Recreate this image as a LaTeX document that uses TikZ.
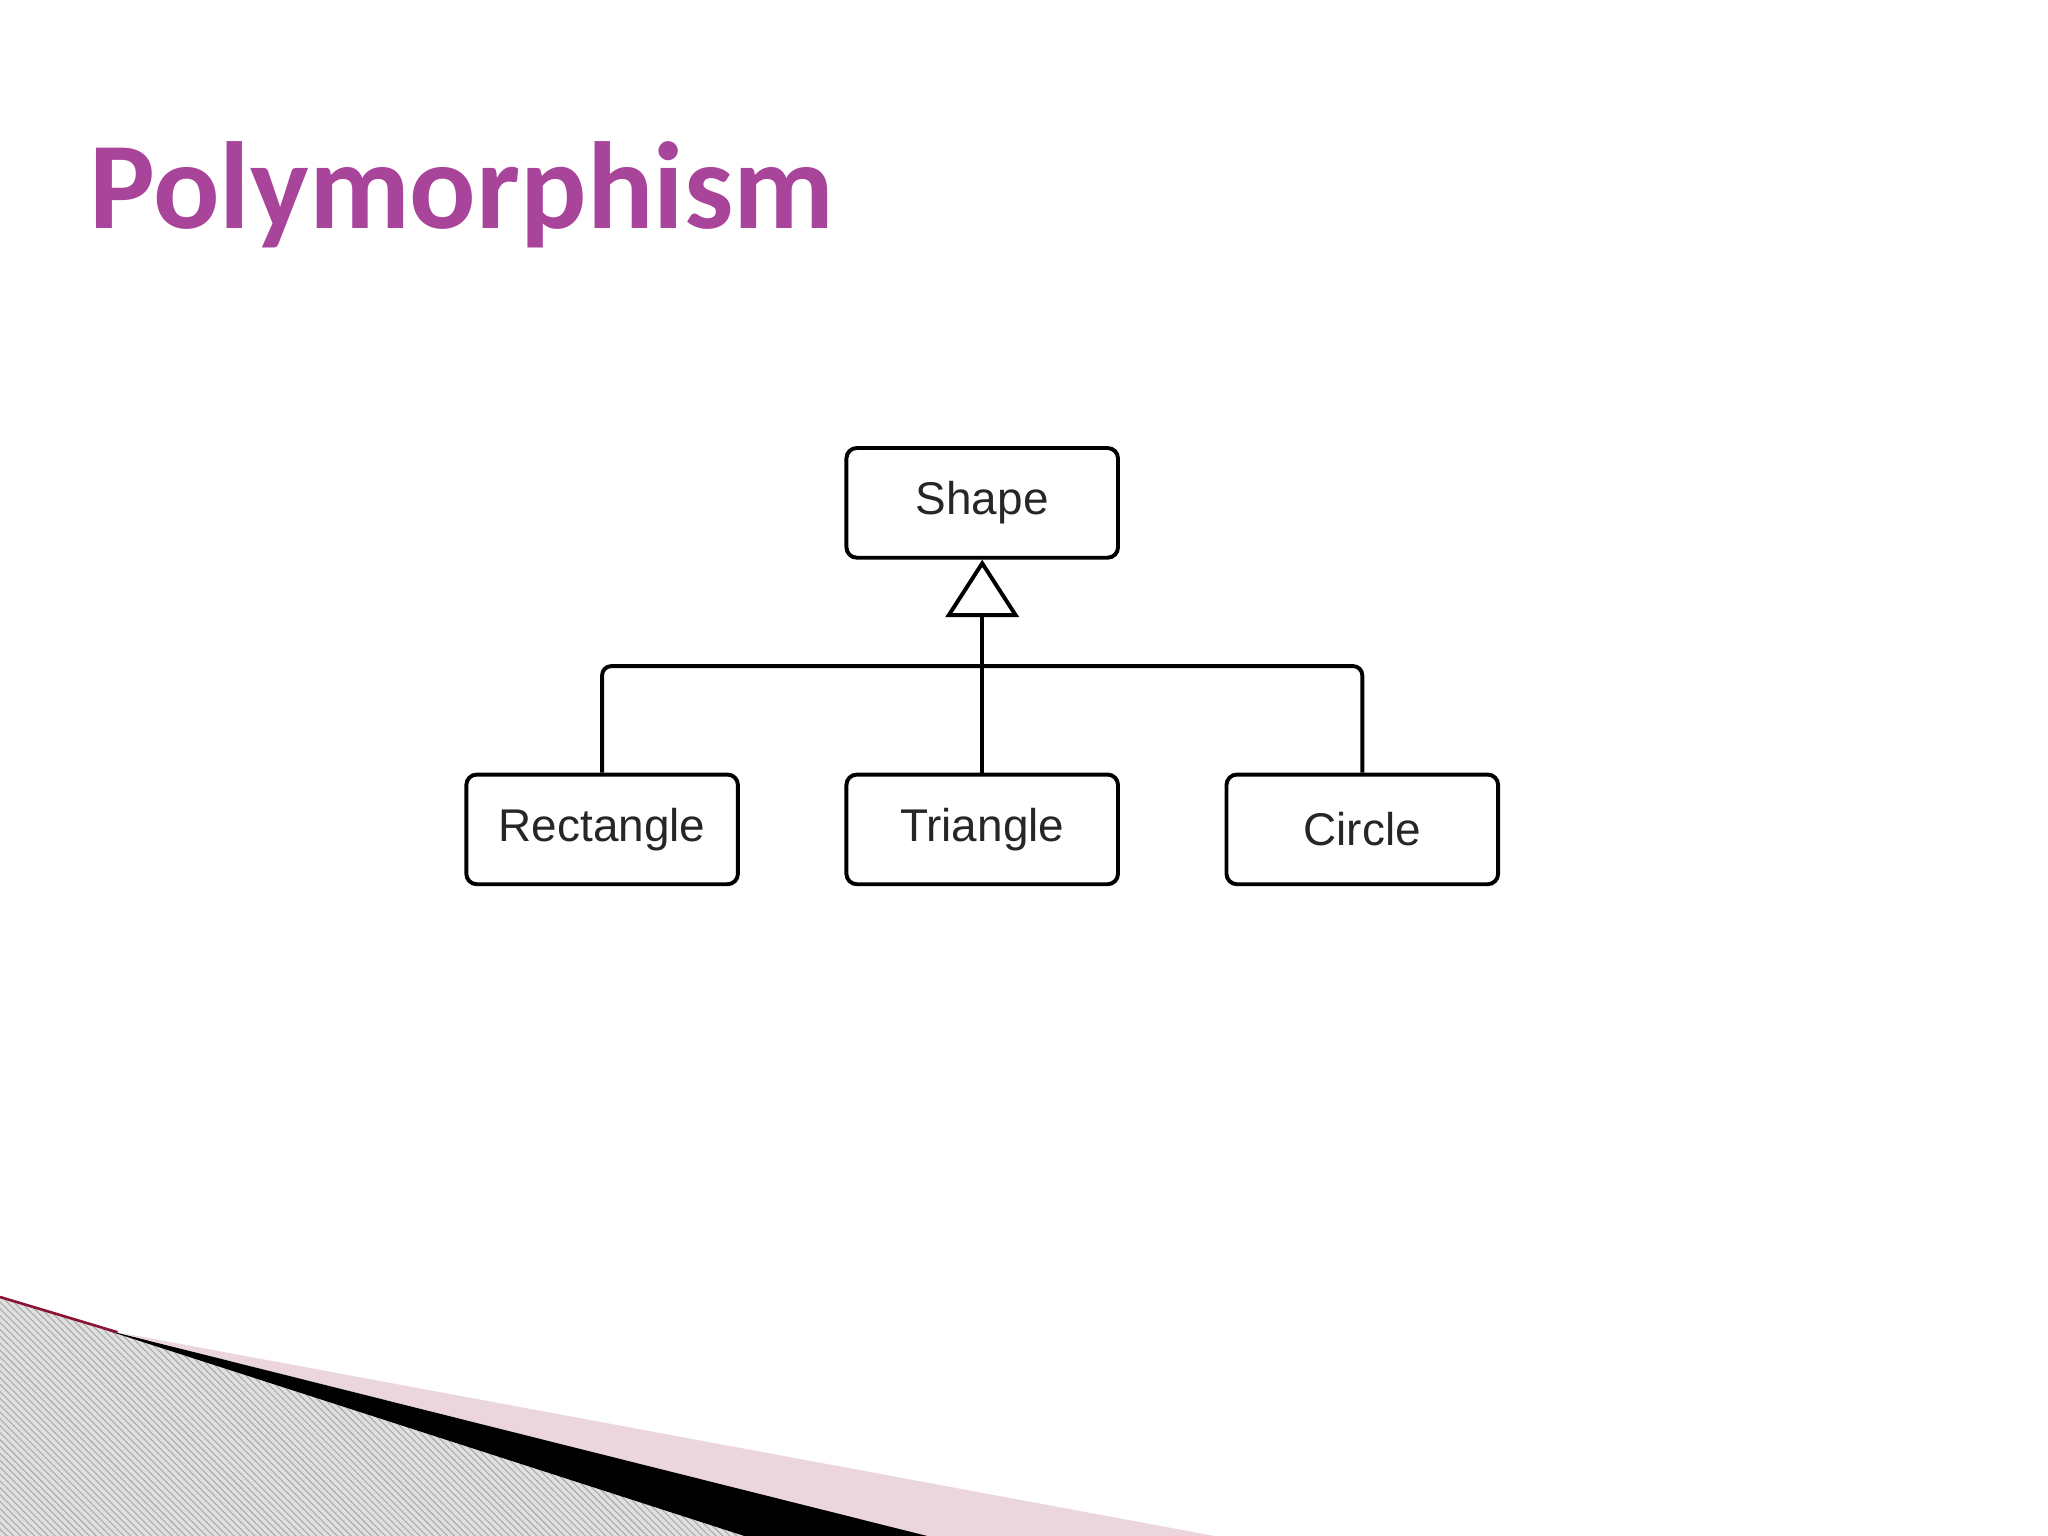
\documentclass[tikz,border=0pt]{standalone}
\usepackage{fontspec}
\setmainfont{Liberation Sans}
\newfontfamily\titlefont{Carlito}
\usetikzlibrary{arrows.meta,patterns}
\definecolor{titlepink}{RGB}{168,68,154}
\definecolor{wedgepink}{RGB}{236,214,222}
\definecolor{wedgered}{RGB}{140,20,50}
\tikzset{
  cls/.style={draw, line width=0.06cm, rounded corners=0.16cm, minimum width=4.16cm,
    minimum height=1.68cm, font=\fontsize{20}{24}\selectfont, text=black!85},
  link/.style={line width=0.06cm, rounded corners=0.14cm}
}
\begin{document}
\begin{tikzpicture}[x=0.02cm, y=-0.02cm]
\useasboundingbox (0,0) rectangle (1568,1176);
% titel
\node[anchor=base west, inner sep=0, text=titlepink,
  font=\titlefont\bfseries\fontsize{54}{60}\selectfont] (title) at (68,175) {Polymorphism};

% klassen
\node[cls] (shape) at (752,385) {Shape};
\node[cls] (rect) at (461,635) {Rectangle};
\node[cls] (tri) at (752,635) {Triangle};
\node[cls] (circ) at (1043,635) {Circle};

% vererbung
\coordinate (join) at (752,510);
\draw[link] (rect.north) |- (join) -| (circ.north);
\draw[line width=0.06cm, -{Triangle[open, length=0.88cm, width=1.12cm, line width=0.06cm]}]
  (tri.north) -- (shape.south);

% deko unten links
\fill[gray!25] (0,993) -- (80,1018) -- (570,1176) -- (0,1176) -- cycle;
\fill[pattern=north west lines, pattern color=gray!70] (0,993) -- (80,1018) -- (570,1176) -- (0,1176) -- cycle;
\fill[wedgepink] (90,1020) -- (930,1176) -- (700,1176) -- cycle;
\fill[black] (80,1018) -- (710,1176) -- (570,1176) -- cycle;
\draw[wedgered, line width=0.04cm] (0,993) -- (90,1020);
\end{tikzpicture}
\end{document}
